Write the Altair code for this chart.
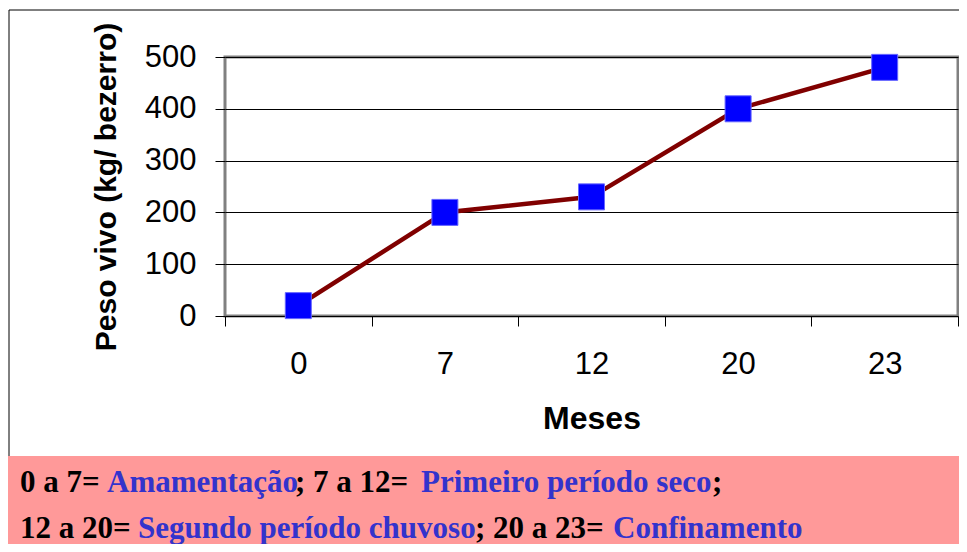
import altair as alt
import pandas as pd

# data
meses = ["0", "7", "12", "20", "23"]
peso = [20, 200, 230, 400, 480]
y_ticks = [0, 100, 200, 300, 400, 500]

linha1 = ["0 a 7=", "Amamentação", "; 7 a 12=", "Primeiro período seco", ";"]
linha2 = ["12 a 20=", "Segundo período chuvoso", "; 20 a 23=", "Confinamento"]
cores1 = ["black", "blue", "black", "blue", "black"]
cores2 = ["black", "blue", "black", "blue"]

df = pd.DataFrame({"mes": meses, "peso": peso})

W, H = 733, 259
PAL = {"black": "#000000", "blue": "#3333CC"}

x_enc = alt.X(
    "mes:O", sort=None,
    scale=alt.Scale(type="band", paddingInner=0, paddingOuter=0),
    axis=alt.Axis(
        title="Meses", labelAngle=0, tickBand="extent", domain=False,
        ticks=True, tickColor="#000000", tickSize=10, tickWidth=1,
        labelFont="Liberation Sans", labelFontSize=31, labelColor="#000000",
        labelBaseline="alphabetic", labelPadding=47,
        titleFont="Liberation Sans", titleFontSize=32, titleFontWeight="bold",
        titleColor="#000000", titleBaseline="alphabetic", titleY=112,
        titleX=W / 2, titleAlign="center", grid=False,
    ),
)
y_enc = alt.Y(
    "peso:Q",
    scale=alt.Scale(domain=[0, 500], nice=False),
    axis=alt.Axis(
        title="Peso vivo (kg/ bezerro)", values=y_ticks, domain=False,
        tickColor="#000000", tickSize=10, tickWidth=1,
        labelFont="Liberation Sans", labelFontSize=31, labelColor="#000000",
        labelPadding=19, grid=True, gridColor="#000000", gridWidth=1,
        titleFont="Liberation Sans", titleFontSize=30, titleFontWeight="bold",
        titleColor="#000000", titleAngle=270, titleBaseline="alphabetic",
        titleAlign="center", titleX=-110, titleY=H / 2,
    ),
)

base = alt.Chart(df)
line = base.mark_line(color="#800000", strokeWidth=4.5).encode(x=x_enc, y=y_enc)
pts = base.mark_point(shape="square", filled=True, size=676, fill="#0000FF",
                      stroke="#6666FF", strokeWidth=1, opacity=1).encode(x=x_enc, y=y_enc)

one = pd.DataFrame({"k": [0]})
frame = alt.Chart(one).mark_rect(fill=None, stroke="#000000", strokeWidth=1).encode(
    x=alt.value(-216), x2=alt.value(760), y=alt.value(-47), y2=alt.value(420))
pink = alt.Chart(one).mark_rect(fill="#FF9999", stroke=None).encode(
    x=alt.value(-218), x2=alt.value(760), y=alt.value(399), y2=alt.value(520))

xs1 = [-205, -118, 70, 196, 487]
xs2 = [-205, -87, 250, 388]
texts = []
for segs, cores, xs, yb in [(linha1, cores1, xs1, 435), (linha2, cores2, xs2, 481)]:
    for s, c, xp in zip(segs, cores, xs):
        texts.append(
            alt.Chart(pd.DataFrame({"t": [s]})).mark_text(
                font="Liberation Serif", fontSize=31, fontWeight="bold",
                align="left", baseline="alphabetic", color=PAL[c],
            ).encode(text="t:N", x=alt.value(xp), y=alt.value(yb))
        )

chart = alt.layer(frame, pink, line, pts, *texts).properties(
    width=W, height=H, autosize="none",
    padding={"left": 217, "top": 49, "right": 1, "bottom": 228},
    background="#FFFFFF",
).configure_view(stroke="#808080", strokeWidth=3)

chart.save("out.html", embed_options={"renderer": "svg", "actions": False})
